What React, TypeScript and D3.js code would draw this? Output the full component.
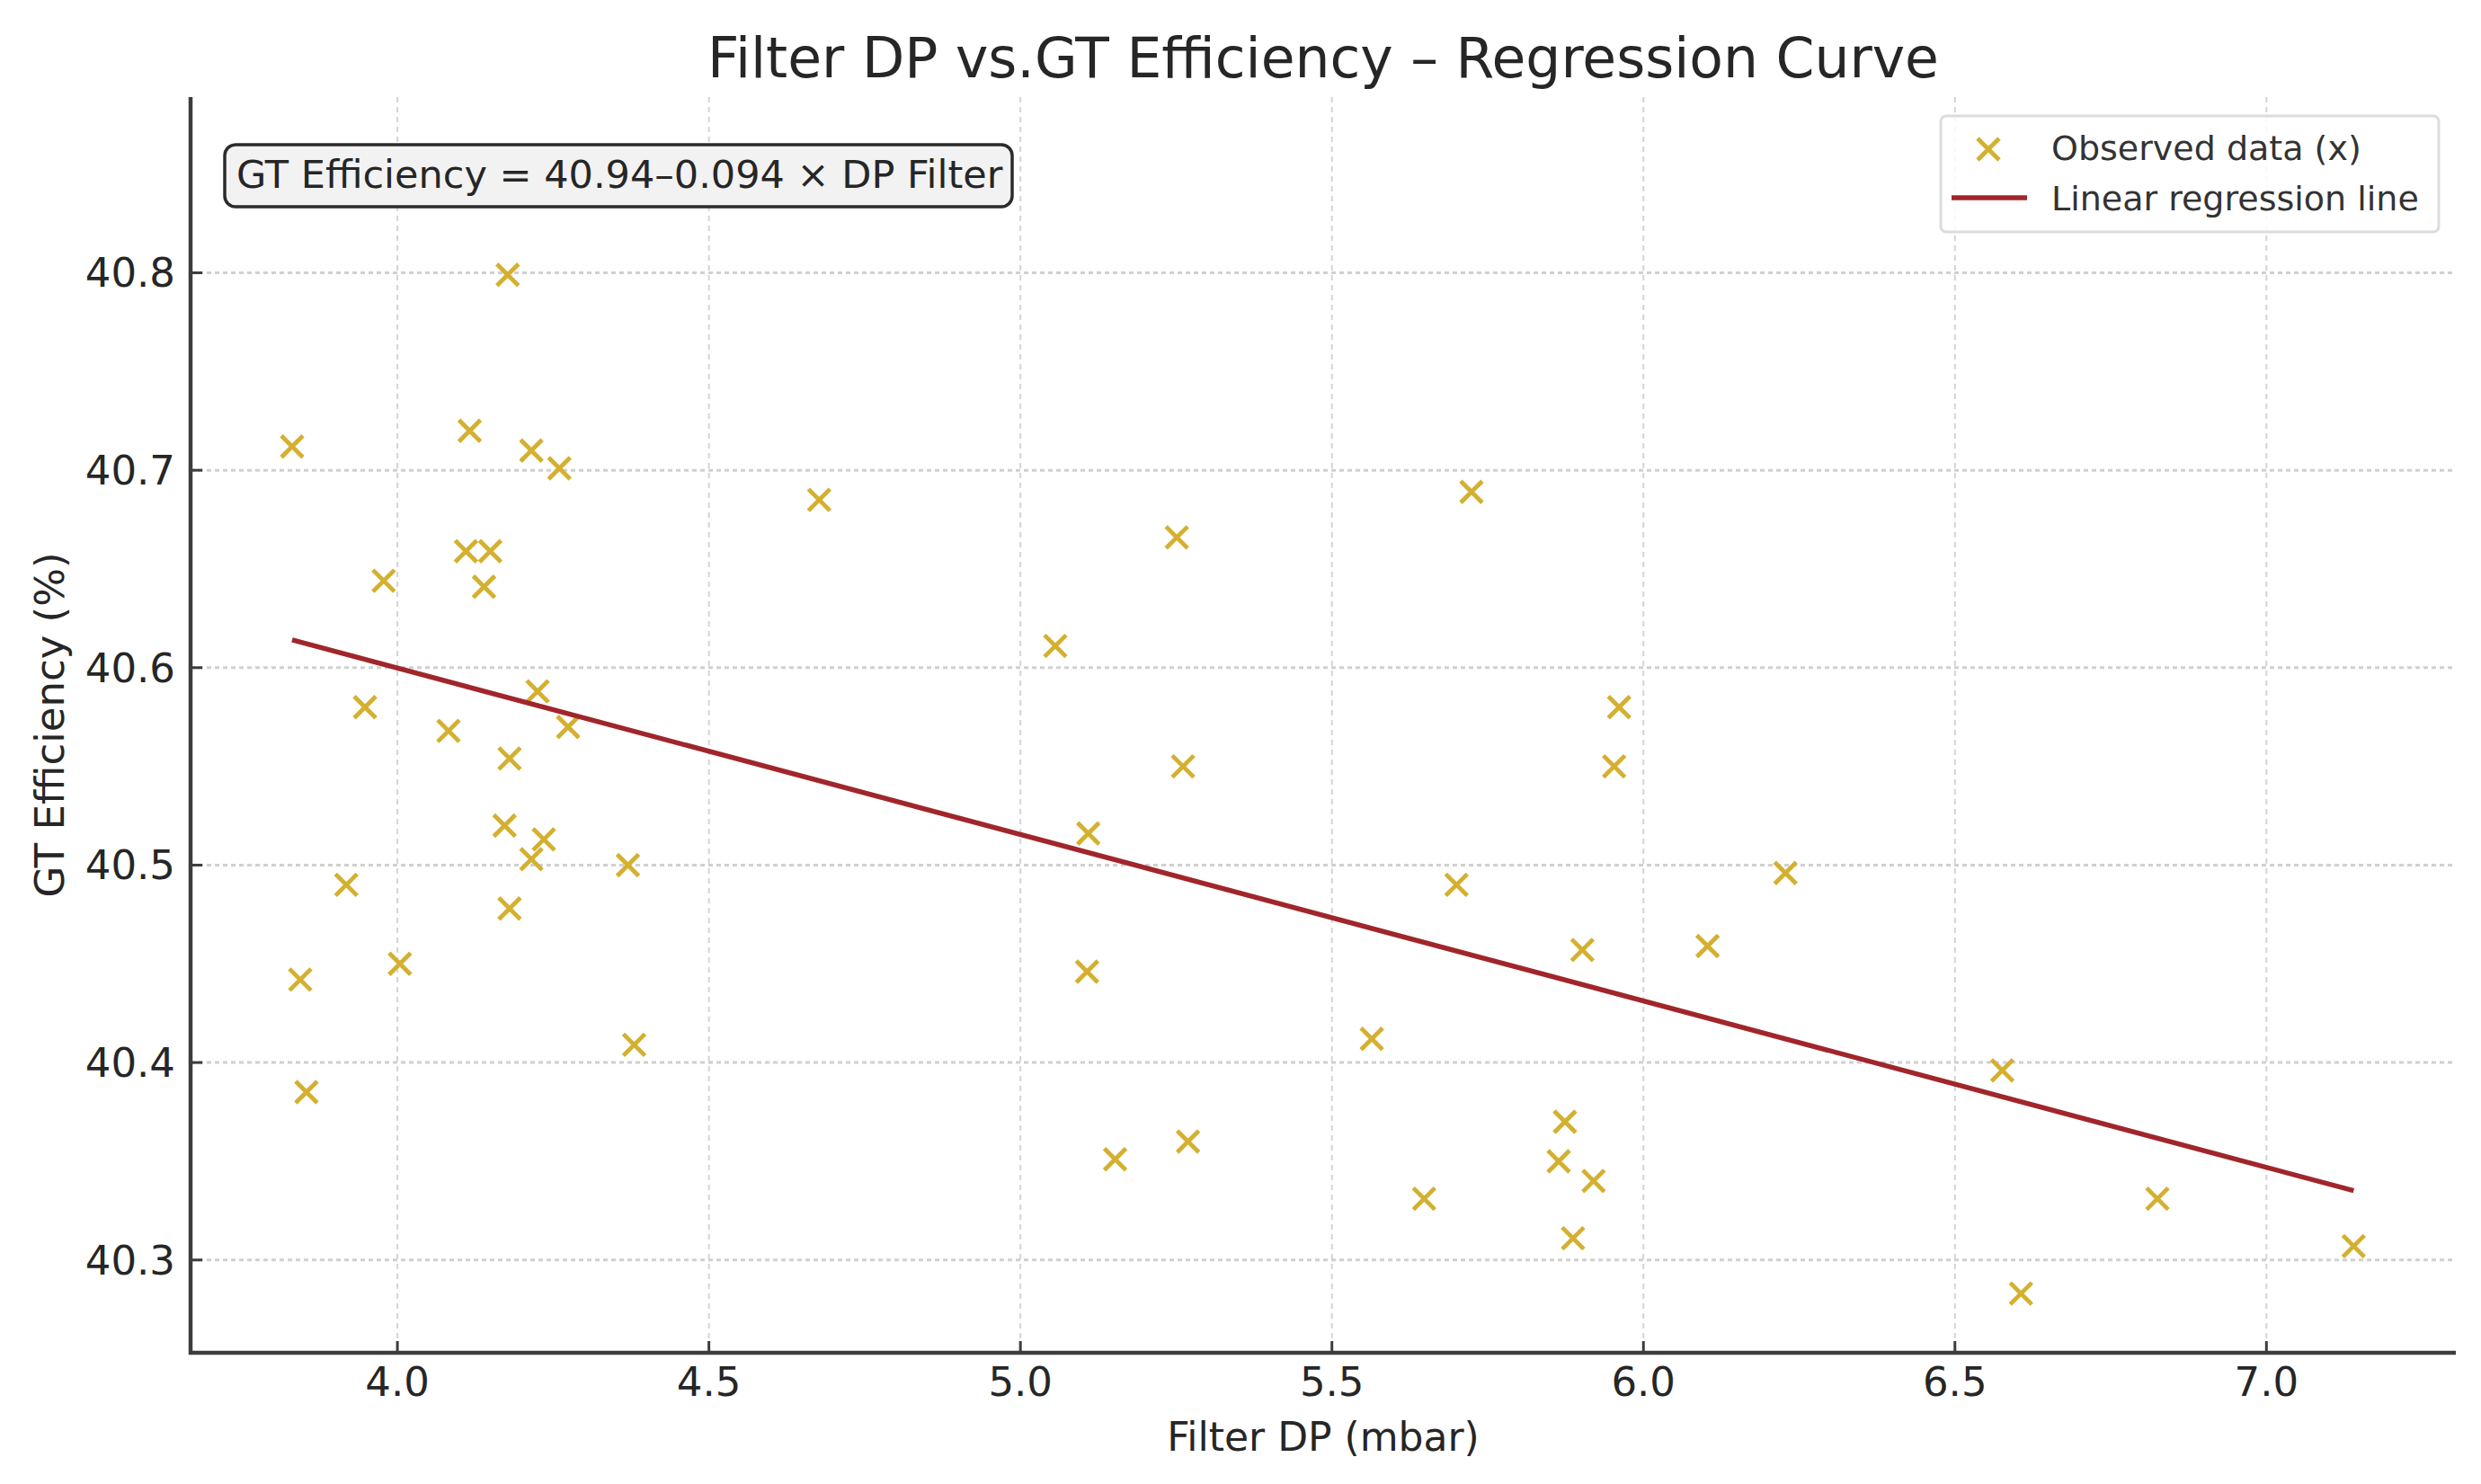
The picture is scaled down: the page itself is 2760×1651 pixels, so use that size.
import React from "react";
import * as d3 from "d3";

const filterDP = [
  3.831, 4.177, 4.116, 4.215, 4.26, 4.677, 4.11, 4.149, 3.978, 4.139,
  5.251, 5.724, 5.056, 3.948, 4.225, 4.082, 4.274, 4.18, 5.961, 5.953,
  5.261, 4.172, 4.235, 4.215, 5.109, 4.37, 3.918, 4.18, 5.70, 6.228,
  3.844, 4.004, 5.107, 5.902, 6.103, 4.38, 5.564, 3.854, 6.576, 5.269,
  5.152, 5.874, 5.864, 5.92, 5.648, 6.825, 5.887, 7.14, 6.606,
];
const gtEfficiency = [
  40.712, 40.799, 40.72, 40.71, 40.701, 40.685, 40.659, 40.659, 40.644, 40.641,
  40.666, 40.689, 40.611, 40.58, 40.588, 40.568, 40.57, 40.554, 40.58, 40.55,
  40.55, 40.52, 40.513, 40.503, 40.516, 40.5, 40.49, 40.478, 40.49, 40.496,
  40.442, 40.45, 40.446, 40.457, 40.459, 40.409, 40.412, 40.385, 40.396, 40.36,
  40.351, 40.37, 40.35, 40.34, 40.331, 40.331, 40.311, 40.307, 40.283,
];
const regIntercept = 40.937;
const regSlope = -0.0843;
const xTicks = [4.0, 4.5, 5.0, 5.5, 6.0, 6.5, 7.0];
const yTicks = [40.3, 40.4, 40.5, 40.6, 40.7, 40.8];
const xDomain = [3.668, 7.304];
const yDomain = [40.253, 40.889];

const titleText = "Filter DP vs.GT Efficiency \u2013 Regression Curve";
const xLabel = "Filter DP (mbar)";
const yLabel = "GT Efficiency (%)";
const equationText = "GT Efficiency = 40.94\u20130.094 \u00d7 DP Filter";
const legendLabels = ["Observed data (x)", "Linear regression line"];

const W = 2760;
const H = 1651;
const M = { left: 212, right: 2732, top: 108, bottom: 1505 };
const FONT = "'DejaVu Sans', sans-serif";
const MARKER = "#d4b030";
const LINE = "#a0262b";
const SPINE = "#3d3d3d";

export default function App() {
  const x = d3.scaleLinear().domain(xDomain).range([M.left, M.right]);
  const y = d3.scaleLinear().domain(yDomain).range([M.bottom, M.top]);
  const pts = filterDP.map((v, i) => [v, gtEfficiency[i]] as [number, number]);
  const xmin = d3.min(filterDP) as number;
  const xmax = d3.max(filterDP) as number;
  const regLine = d3
    .line<number>()
    .x((d) => x(d))
    .y((d) => y(regIntercept + regSlope * d))([xmin, xmax]);
  const ms = 12;

  return (
    <svg
      width={W}
      height={H}
      style={{ position: "absolute", left: 0, top: 0, background: "#fff" }}
      fontFamily={FONT}
    >
      <rect x={0} y={0} width={W} height={H} fill="#fff" />
      {/* grid */}
      {xTicks.map((t) => (
        <line
          key={"gx" + t}
          x1={x(t)}
          x2={x(t)}
          y1={M.top}
          y2={M.bottom}
          stroke="#d4d4d4"
          strokeWidth={2}
          strokeDasharray="6,5"
        />
      ))}
      {yTicks.map((t) => (
        <line
          key={"gy" + t}
          x1={M.left}
          x2={M.right}
          y1={y(t)}
          y2={y(t)}
          stroke="#d0d0d0"
          strokeWidth={3}
          strokeDasharray="5,4"
        />
      ))}
      {/* points */}
      {pts.map(([a, b], i) => (
        <path
          key={"p" + i}
          d={`M${x(a) - ms},${y(b) - ms}L${x(a) + ms},${y(b) + ms}M${x(a) - ms},${y(b) + ms}L${x(a) + ms},${y(b) - ms}`}
          stroke={MARKER}
          strokeWidth={4.8}
          fill="none"
        />
      ))}
      {/* regression */}
      <path d={regLine || ""} stroke={LINE} strokeWidth={5.5} fill="none" />
      {/* spines */}
      <line x1={M.left} x2={M.left} y1={M.top} y2={M.bottom + 2} stroke={SPINE} strokeWidth={4.5} />
      <line x1={M.left - 2} x2={M.right} y1={M.bottom} y2={M.bottom} stroke={SPINE} strokeWidth={4.5} />
      {/* ticks */}
      {xTicks.map((t) => (
        <g key={"tx" + t}>
          <line x1={x(t)} x2={x(t)} y1={M.bottom} y2={M.bottom - 13} stroke={SPINE} strokeWidth={3} />
          <text x={x(t)} y={1553} fontSize={45} textAnchor="middle" fill="#262626">
            {t.toFixed(1)}
          </text>
        </g>
      ))}
      {yTicks.map((t) => (
        <g key={"ty" + t}>
          <line x1={M.left} x2={M.left + 13} y1={y(t)} y2={y(t)} stroke={SPINE} strokeWidth={3} />
          <text x={195} y={y(t) + 16} fontSize={45} textAnchor="end" fill="#262626">
            {t.toFixed(1)}
          </text>
        </g>
      ))}
      {/* labels */}
      <text x={(M.left + M.right) / 2} y={1614} fontSize={44} textAnchor="middle" fill="#262626">
        {xLabel}
      </text>
      <text
        transform={`translate(71,${(M.top + M.bottom) / 2}) rotate(-90)`}
        fontSize={45}
        textAnchor="middle"
        fill="#262626"
      >
        {yLabel}
      </text>
      <text x={(M.left + M.right) / 2} y={86} fontSize={61.5} textAnchor="middle" fill="#262626">
        {titleText}
      </text>
      {/* equation box */}
      <rect x={250} y={161} width={876} height={69} rx={12} ry={12} fill="#f2f2f2" stroke="#2b2b2b" strokeWidth={3.5} />
      <text x={263} y={209} fontSize={43} fill="#262626">
        {equationText}
      </text>
      {/* legend */}
      <rect x={2159} y={129} width={554} height={129} rx={6} ry={6} fill="#fff" fillOpacity={0.85} stroke="#dcdcdc" strokeWidth={3} />
      <path
        d={`M${2212 - ms},${166 - ms}L${2212 + ms},${166 + ms}M${2212 - ms},${166 + ms}L${2212 + ms},${166 - ms}`}
        stroke={MARKER}
        strokeWidth={4.8}
        fill="none"
      />
      <text x={2282} y={178} fontSize={38} fill="#333">
        {legendLabels[0]}
      </text>
      <line x1={2171} x2={2255} y1={220} y2={220} stroke={LINE} strokeWidth={5.5} />
      <text x={2282} y={234} fontSize={38} fill="#333">
        {legendLabels[1]}
      </text>
    </svg>
  );
}
